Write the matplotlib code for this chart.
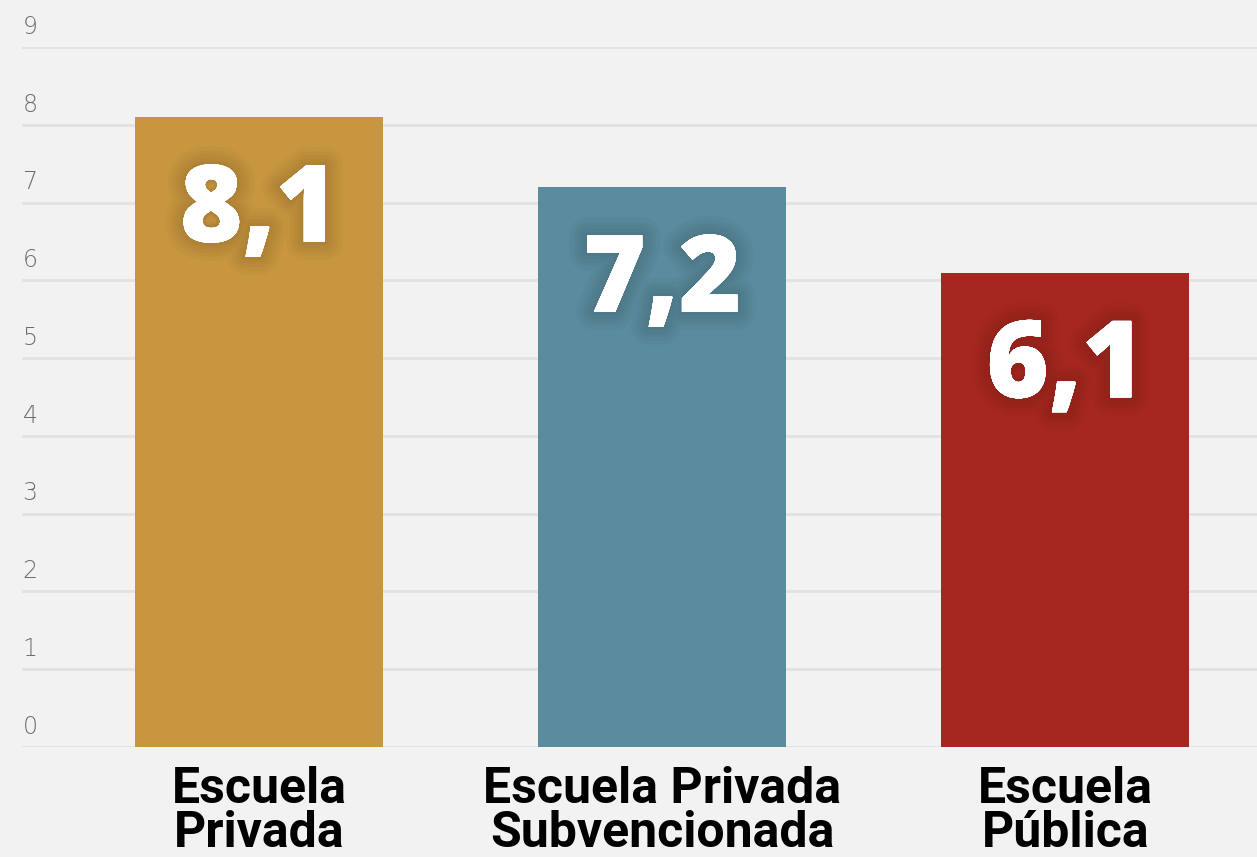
import numpy as np
import matplotlib.pyplot as plt
import matplotlib.patheffects as pe

categories = ['Escuela\nPrivada', 'Escuela Privada\nSubvencionada', 'Escuela\nPública']
values = [8.1, 7.2, 6.1]
labels = ['8,1', '7,2', '6,1']
colors = ['#C8963F', '#5A8C9D', '#A6271F']
yticks = list(range(0, 10))

bg = '#F2F2F2'
fig = plt.figure(figsize=(12.57, 8.57), dpi=100, facecolor=bg)
ax = fig.add_axes([22 / 1257, 110 / 857, 1235 / 1257, 700 / 857])
ax.set_facecolor(bg)

x = np.arange(len(categories))
ax.bar(x, values, width=0.615, color=colors, zorder=2)

ax.set_xlim(-0.588, 2.475)
ax.set_ylim(0, 9)
ax.set_yticks(yticks)
ax.set_yticklabels([])
ax.tick_params(axis='y', length=0)
ax.grid(axis='y', color='#E2E2E2', linewidth=2, zorder=0)
for s in ax.spines.values():
    s.set_visible(False)

# y labels sit above their gridline
for t in yticks:
    ax.text(0.0065, t + 0.26, str(t), transform=ax.get_yaxis_transform(),
            ha='center', va='center', fontsize=17, color='#6E6E6E',
            family='DejaVu Sans', fontweight='light')

ax.set_xticks(x)
ax.set_xticklabels(categories, fontsize=36, fontweight='bold', family='Roboto',
                   color='black', linespacing=0.9)
ax.tick_params(axis='x', length=0, pad=14)

# soft dark glow behind the value labels
shadow = [pe.withStroke(linewidth=w, foreground=(0, 0, 0, 0.025)) for w in (26, 20, 15, 10, 5)]
shadow.append(pe.Normal())
for xi, v, lab in zip(x, values, labels):
    ax.text(xi, v - 1.25, lab, ha='center', va='center', fontsize=77,
            fontweight='heavy', family='Open Sans', color='white',
            path_effects=shadow, zorder=3)

fig.savefig('out.png', dpi=100, facecolor=bg)
